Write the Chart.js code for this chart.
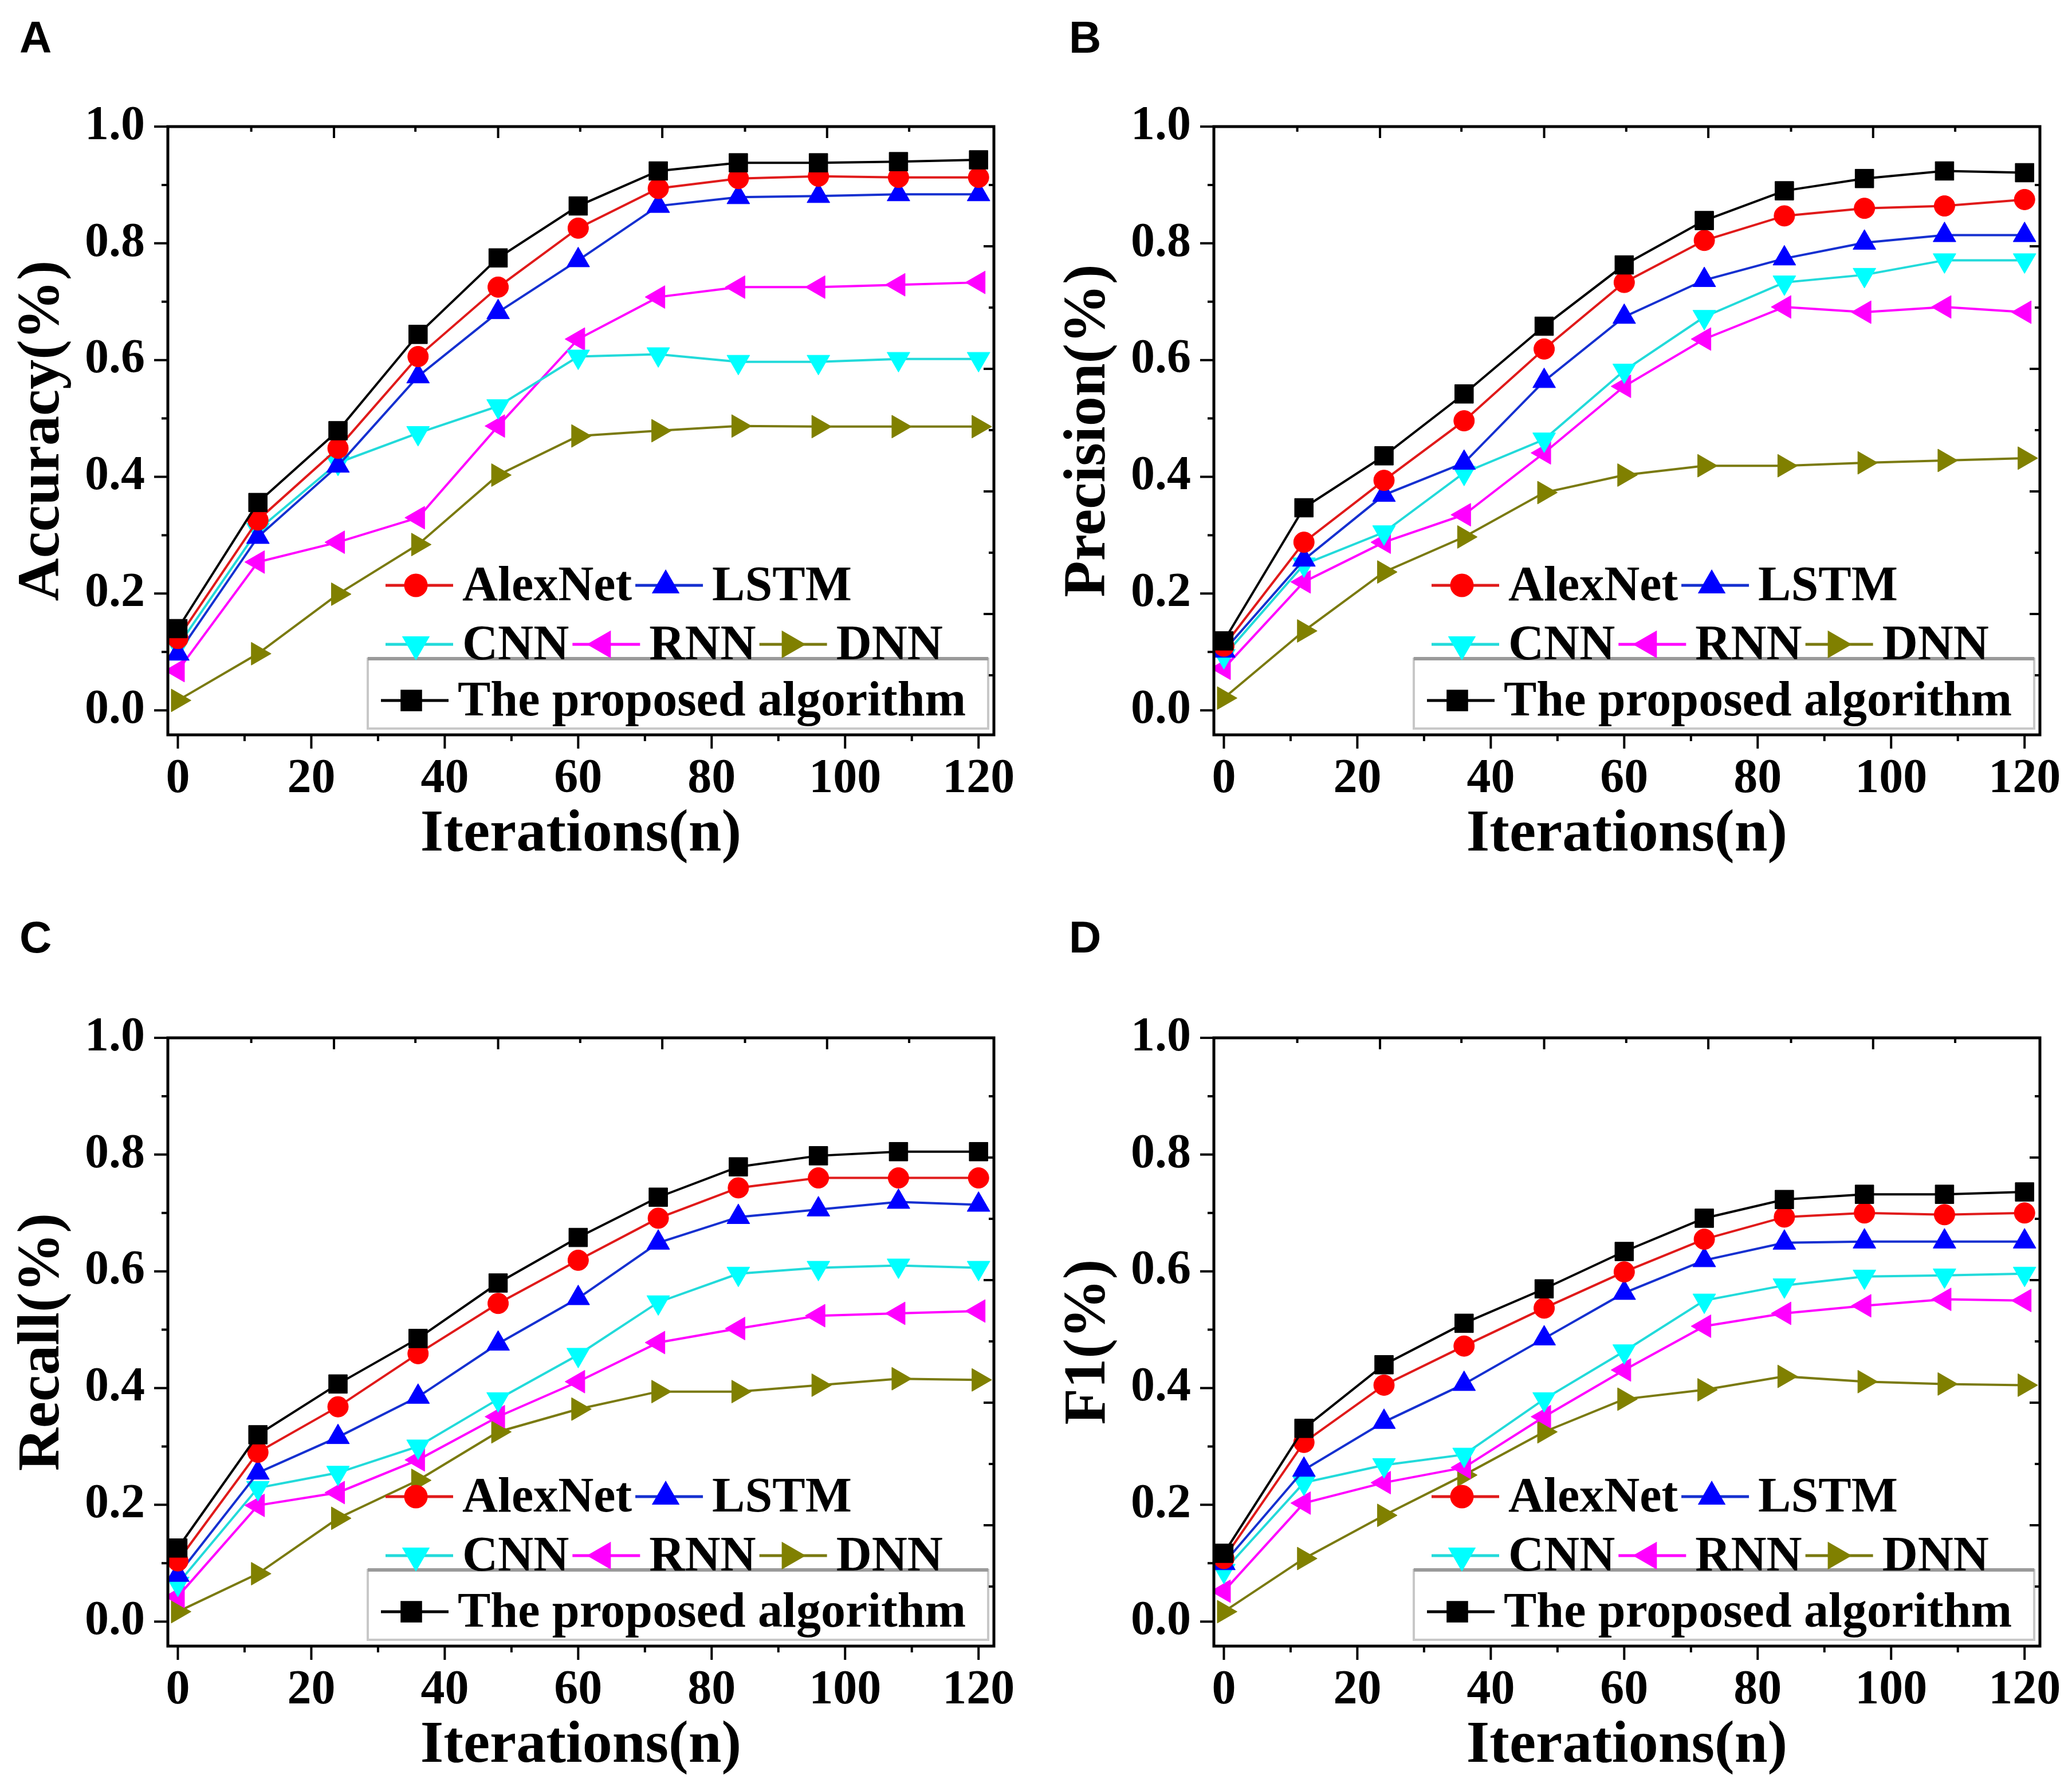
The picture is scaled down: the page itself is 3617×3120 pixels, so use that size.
<!DOCTYPE html>
<html>
<head>
<meta charset="utf-8">
<script src="https://cdn.jsdelivr.net/npm/chart.js@4.4.1/dist/chart.umd.min.js"></script>
<style>
  body { margin: 0; background: #fff; width: 3617px; height: 3120px; position: relative; overflow: hidden; }
  canvas { position: absolute; }
  .tag { position: absolute; font: bold 78px "Liberation Sans", Arial, sans-serif; line-height: 1; }
</style>
</head>
<body>
<div class="tag" style="left:34px;top:26px">A</div>
<div class="tag" style="left:1866px;top:26px">B</div>
<div class="tag" style="left:34px;top:1597px">C</div>
<div class="tag" style="left:1866px;top:1597px">D</div>
<canvas id="chartA" width="1790" height="1529" style="left:0;top:0"></canvas>
<canvas id="chartB" width="1790" height="1529" style="left:1826px;top:0"></canvas>
<canvas id="chartC" width="1790" height="1529" style="left:0;top:1591px"></canvas>
<canvas id="chartD" width="1790" height="1529" style="left:1826px;top:1591px"></canvas>
<script>
// x positions and tick values
const iterations = [0, 12, 24, 36, 48, 60, 72, 84, 96, 108, 120];
const xTicks = [0, 20, 40, 60, 80, 100, 120];
const yTicks = [0, 0.2, 0.4, 0.6, 0.8, 1.0];
const xTickMarks = [0, 10, 20, 30, 40, 50, 60, 70, 80, 90, 100, 110, 120];
const yTickMarks = [0, 0.1, 0.2, 0.3, 0.4, 0.5, 0.6, 0.7, 0.8, 0.9, 1.0];
const topTickMarks = [11, 23.4, 35.6, 48, 60.3, 72.6, 85, 97.3, 109.6];
const rightTickMarks = [0.9, 0.795, 0.69, 0.585, 0.48, 0.375, 0.27, 0.165, 0.06];

// A: Accuracy
const accProposed = [0.14, 0.356, 0.479, 0.644, 0.775, 0.864, 0.924, 0.938, 0.938, 0.94, 0.943];
const accAlexNet  = [0.123, 0.326, 0.449, 0.606, 0.725, 0.826, 0.894, 0.911, 0.915, 0.913, 0.913];
const accLSTM     = [0.097, 0.297, 0.419, 0.572, 0.682, 0.771, 0.864, 0.879, 0.881, 0.884, 0.884];
const accCNN      = [0.11, 0.309, 0.424, 0.475, 0.521, 0.606, 0.61, 0.597, 0.597, 0.602, 0.602];
const accRNN      = [0.068, 0.254, 0.288, 0.33, 0.487, 0.636, 0.708, 0.725, 0.725, 0.729, 0.733];
const accDNN      = [0.017, 0.097, 0.199, 0.284, 0.403, 0.47, 0.479, 0.487, 0.486, 0.486, 0.486];

// B: Precision
const preProposed = [0.119, 0.347, 0.436, 0.542, 0.658, 0.763, 0.839, 0.89, 0.911, 0.924, 0.921];
const preAlexNet  = [0.11, 0.288, 0.394, 0.496, 0.619, 0.733, 0.805, 0.847, 0.86, 0.864, 0.875];
const preLSTM     = [0.102, 0.258, 0.369, 0.424, 0.564, 0.674, 0.737, 0.774, 0.801, 0.814, 0.814];
const preCNN      = [0.093, 0.25, 0.305, 0.407, 0.464, 0.582, 0.674, 0.733, 0.746, 0.771, 0.771];
const preRNN      = [0.072, 0.22, 0.288, 0.335, 0.441, 0.555, 0.636, 0.691, 0.682, 0.691, 0.682];
const preDNN      = [0.021, 0.136, 0.237, 0.297, 0.373, 0.403, 0.419, 0.419, 0.424, 0.428, 0.432];

// C: Recall
const recProposed = [0.126, 0.32, 0.407, 0.485, 0.58, 0.658, 0.727, 0.779, 0.798, 0.805, 0.805];
const recAlexNet  = [0.104, 0.29, 0.368, 0.459, 0.545, 0.619, 0.691, 0.743, 0.76, 0.76, 0.76];
const recLSTM     = [0.08, 0.255, 0.316, 0.385, 0.476, 0.554, 0.649, 0.693, 0.706, 0.719, 0.714];
const recCNN      = [0.065, 0.229, 0.255, 0.3, 0.381, 0.457, 0.547, 0.596, 0.606, 0.61, 0.606];
const recRNN      = [0.043, 0.199, 0.221, 0.277, 0.351, 0.411, 0.478, 0.502, 0.524, 0.528, 0.532];
const recDNN      = [0.017, 0.082, 0.177, 0.242, 0.325, 0.364, 0.394, 0.394, 0.405, 0.416, 0.414];

// D: F1
const f1Proposed = [0.117, 0.331, 0.44, 0.511, 0.57, 0.634, 0.691, 0.723, 0.732, 0.732, 0.736];
const f1AlexNet  = [0.108, 0.307, 0.405, 0.472, 0.537, 0.599, 0.655, 0.693, 0.7, 0.697, 0.7];
const f1LSTM     = [0.1, 0.26, 0.342, 0.407, 0.485, 0.563, 0.619, 0.649, 0.651, 0.651, 0.651];
const f1CNN      = [0.087, 0.238, 0.268, 0.286, 0.381, 0.463, 0.55, 0.576, 0.591, 0.593, 0.596];
const f1RNN      = [0.052, 0.203, 0.238, 0.264, 0.351, 0.431, 0.506, 0.528, 0.541, 0.552, 0.55];
const f1DNN      = [0.017, 0.108, 0.182, 0.251, 0.325, 0.381, 0.397, 0.42, 0.411, 0.407, 0.405];

// look of each model
const looks = {
  'The proposed algorithm': { color: '#000000', line: '#000000', pointStyle: 'rect', rotation: 0, radius: 23 },
  'AlexNet': { color: '#ff0000', line: '#e01a1a', pointStyle: 'circle', rotation: 0, radius: 18 },
  'LSTM': { color: '#0000ff', line: '#1530d0', pointStyle: 'triangle', rotation: 0, radius: 23 },
  'CNN': { color: '#00ffff', line: '#22dada', pointStyle: 'triangle', rotation: 180, radius: 23 },
  'RNN': { color: '#ff00ff', line: '#ff00ff', pointStyle: 'triangle', rotation: 270, radius: 23 },
  'DNN': { color: '#808000', line: '#7a7a10', pointStyle: 'triangle', rotation: 90, radius: 23 }
};
const legendRows = [['AlexNet', 'LSTM'], ['CNN', 'RNN', 'DNN'], ['The proposed algorithm']];

Chart.defaults.font.family = '"Liberation Serif", "Times New Roman", serif';
Chart.defaults.font.weight = 'bold';
Chart.defaults.color = '#000';

function drawLegend(chart) {
  const { ctx, chartArea: a } = chart;
  // framed box around the last row
  ctx.fillStyle = '#fff';
  ctx.fillRect(a.left + 349, a.top + 929, 1083, 122);
  ctx.strokeStyle = '#c8c8c8';
  ctx.lineWidth = 4;
  ctx.strokeRect(a.left + 349, a.top + 929, 1083, 122);
  ctx.strokeStyle = '#9a9a9a';
  ctx.lineWidth = 6;
  ctx.beginPath();
  ctx.moveTo(a.left + 349, a.top + 929);
  ctx.lineTo(a.left + 1432, a.top + 929);
  ctx.stroke();

  const rowY = [801, 904, 1002];
  const rowX = [380, 380, 372];
  ctx.font = 'bold 86px "Liberation Serif", "Times New Roman", serif';
  ctx.textBaseline = 'middle';
  ctx.textAlign = 'left';
  legendRows.forEach((row, r) => {
    let x = a.left + rowX[r];
    const y = a.top + rowY[r];
    row.forEach(name => {
      const s = looks[name];
      ctx.strokeStyle = s.line;
      ctx.lineWidth = 5;
      ctx.beginPath();
      ctx.moveTo(x, y);
      ctx.lineTo(x + 118, y);
      ctx.stroke();
      ctx.fillStyle = s.color;
      ctx.strokeStyle = s.color;
      Chart.helpers.drawPoint(ctx, { pointStyle: s.pointStyle, rotation: s.rotation, radius: s.radius, borderWidth: 1 }, x + 53, y);
      ctx.fillStyle = '#000';
      ctx.fillText(name, x + 134, y + 4);
      x += 134 + ctx.measureText(name).width + 6;
    });
  });
}

const framePlugin = {
  id: 'frame',
  afterDatasetsDraw(chart) {
    const { ctx, chartArea: a, scales: { x, y } } = chart;
    ctx.save();
    drawLegend(chart);
    ctx.strokeStyle = '#000';
    ctx.lineWidth = 5;
    ctx.strokeRect(a.left, a.top, a.right - a.left, a.bottom - a.top);
    ctx.lineWidth = 4;
    ctx.beginPath();
    xTickMarks.forEach(v => {
      const p = x.getPixelForValue(v);
      ctx.moveTo(p, a.bottom);
      ctx.lineTo(p, a.bottom + (v % 20 === 0 ? 24 : 11));
    });
    yTickMarks.forEach((v, i) => {
      const p = y.getPixelForValue(v);
      ctx.moveTo(a.left, p);
      ctx.lineTo(a.left - (i % 2 === 0 ? 24 : 11), p);
    });
    topTickMarks.forEach((v, i) => {
      const p = x.getPixelForValue(v);
      ctx.moveTo(p, a.top);
      ctx.lineTo(p, a.top + (i % 2 === 1 ? 20 : 9));
    });
    rightTickMarks.forEach((v, i) => {
      const p = y.getPixelForValue(v);
      ctx.moveTo(a.right, p);
      ctx.lineTo(a.right - (i % 2 === 1 ? 18 : 9), p);
    });
    ctx.stroke();
    ctx.restore();
  }
};

function makeChart(id, yTitle, proposed, alexnet, lstm, cnn, rnn, dnn) {
  const series = [
    ['The proposed algorithm', proposed],
    ['AlexNet', alexnet],
    ['LSTM', lstm],
    ['CNN', cnn],
    ['RNN', rnn],
    ['DNN', dnn]
  ];
  const datasets = series.map(([name, values]) => {
    const s = looks[name];
    return {
      label: name,
      data: values.map((v, i) => ({ x: iterations[i], y: v })),
      borderColor: s.line,
      backgroundColor: s.color,
      borderWidth: 4,
      pointStyle: s.pointStyle,
      rotation: s.rotation,
      pointRadius: s.radius,
      pointBorderColor: s.color,
      pointBackgroundColor: s.color,
      pointBorderWidth: 1,
      tension: 0
    };
  });
  return new Chart(document.getElementById(id), {
    type: 'line',
    data: { datasets },
    options: {
      responsive: false,
      animation: false,
      devicePixelRatio: 1,
      layout: { padding: { top: 221, right: 55, left: 0, bottom: 0 } },
      plugins: { legend: { display: false }, tooltip: { enabled: false } },
      scales: {
        x: {
          type: 'linear',
          min: -1.5,
          max: 122.3,
          afterBuildTicks: s => { s.ticks = xTicks.map(v => ({ value: v })); },
          afterFit: s => { s.height = 246; s.paddingLeft = 0; s.paddingRight = 0; },
          grid: { display: false, drawTicks: false },
          border: { display: false },
          ticks: { padding: 28, font: { size: 84, weight: 'bold' }, color: '#000', maxRotation: 0 },
          title: { display: true, text: 'Iterations(n)', font: { size: 104, weight: 'bold' }, color: '#000', padding: { top: 0, bottom: 8 } }
        },
        y: {
          min: -0.042,
          max: 1.0,
          afterBuildTicks: s => { s.ticks = yTicks.map(v => ({ value: v })); },
          afterFit: s => { s.width = 293; s.paddingTop = 0; s.paddingBottom = 0; },
          grid: { display: false, drawTicks: false },
          border: { display: false },
          ticks: { padding: 40, font: { size: 84, weight: 'bold' }, color: '#000', callback: v => Number(v).toFixed(1) },
          title: { display: true, text: yTitle, font: { size: 104, weight: 'bold' }, color: '#000', padding: { top: 13, bottom: 0 } }
        }
      }
    },
    plugins: [framePlugin]
  });
}

makeChart('chartA', 'Accuracy(%)', accProposed, accAlexNet, accLSTM, accCNN, accRNN, accDNN);
makeChart('chartB', 'Precision(%)', preProposed, preAlexNet, preLSTM, preCNN, preRNN, preDNN);
makeChart('chartC', 'Recall(%)', recProposed, recAlexNet, recLSTM, recCNN, recRNN, recDNN);
makeChart('chartD', 'F1(%)', f1Proposed, f1AlexNet, f1LSTM, f1CNN, f1RNN, f1DNN);
</script>
</body>
</html>
